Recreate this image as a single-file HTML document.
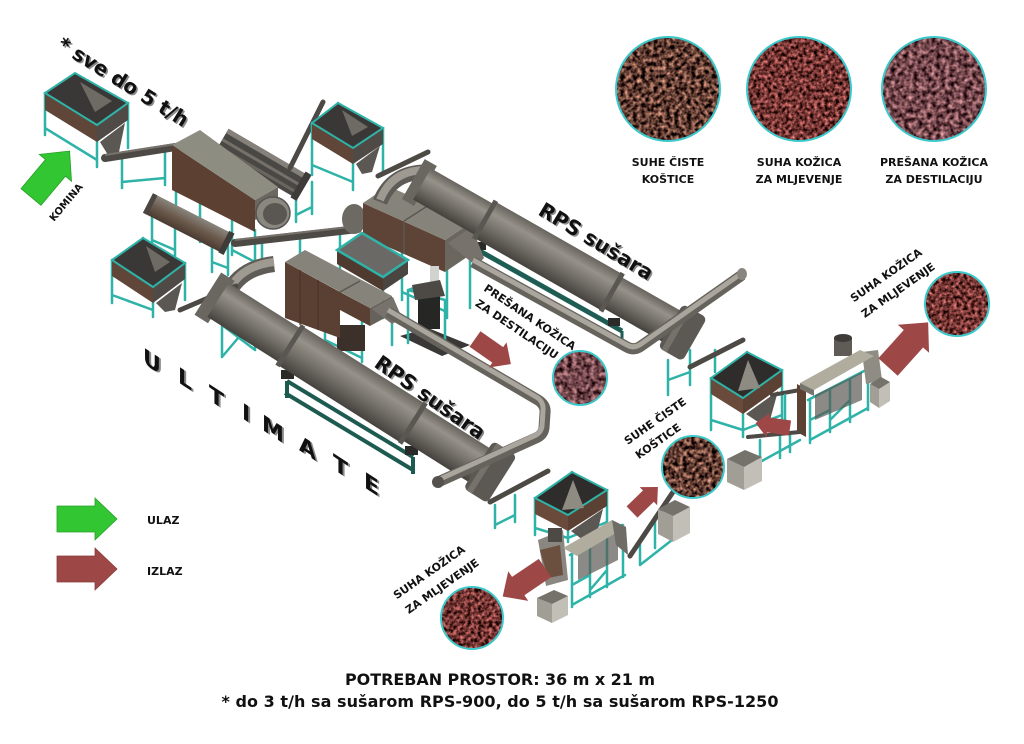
<!DOCTYPE html>
<html><head><meta charset="utf-8"><style>
html,body{margin:0;padding:0;background:#fff;}
svg{display:block;}
text{font-family:"DejaVu Sans","Liberation Sans",sans-serif;font-weight:bold;}
.t{stroke:#2fb3a8;stroke-width:2.5;fill:none;stroke-linecap:round}
.cv{stroke:#4d4944;stroke-linecap:round;fill:none}
</style></head><body>
<svg width="1024" height="744" viewBox="0 0 1024 744" xmlns="http://www.w3.org/2000/svg">
<defs>
<linearGradient id="dg" x1="0" y1="0" x2="0" y2="1">
<stop offset="0" stop-color="#67635d"/><stop offset="0.28" stop-color="#96928a"/><stop offset="0.55" stop-color="#7a766f"/><stop offset="1" stop-color="#45423e"/>
</linearGradient>
<linearGradient id="dg2" x1="0" y1="0" x2="0" y2="1">
<stop offset="0" stop-color="#8a867e"/><stop offset="0.5" stop-color="#6b5a4c"/><stop offset="1" stop-color="#4a3a30"/>
</linearGradient>
<filter id="fA" x="0" y="0" width="1" height="1" color-interpolation-filters="sRGB">
<feTurbulence type="fractalNoise" baseFrequency="0.24" numOctaves="2" seed="4" result="n"/>
<feColorMatrix in="n" type="matrix" values="1.6 0 0 0 -0.42  1.2 0 0 0 -0.36  1.0 0 0 0 -0.3  0 0 0 0 1"/>
<feComposite in2="SourceGraphic" operator="in"/>
</filter>
<filter id="fB" x="0" y="0" width="1" height="1" color-interpolation-filters="sRGB">
<feTurbulence type="fractalNoise" baseFrequency="0.28" numOctaves="2" seed="9" result="n"/>
<feColorMatrix in="n" type="matrix" values="1.5 0 0 0 -0.3  0.9 0 0 0 -0.24  0.9 0 0 0 -0.25  0 0 0 0 1"/>
<feComposite in2="SourceGraphic" operator="in"/>
</filter>
<filter id="fC" x="0" y="0" width="1" height="1" color-interpolation-filters="sRGB">
<feTurbulence type="fractalNoise" baseFrequency="0.22" numOctaves="2" seed="17" result="n"/>
<feColorMatrix in="n" type="matrix" values="1.3 0 0 0 -0.2  1.0 0 0 0 -0.22  1.0 0 0 0 -0.2  0 0 0 0 1"/>
<feComposite in2="SourceGraphic" operator="in"/>
</filter>
<path id="arr" d="M0,-13 L38,-13 L38,-21 L60,0 L38,21 L38,13 L0,13 Z"/>
</defs>

<!-- ============ TOP-LEFT HOPPER H1 ============ -->
<path class="t" d="M75,80 V120 M45,93 V135 M97,125 V167 M128,103 V148 M45,128 L97,160"/>
<polygon points="45,93 97,125 97,142 45,110" fill="#5f4638"/>
<polygon points="97,125 128,103 128,120 97,142" fill="#4f4a45"/>
<polygon points="100,142 125,123 119,152 108,155" fill="#5b5853"/>
<polygon points="45,93 75,73 128,103 97,125" fill="#3a3836" stroke="#2fb3a8" stroke-width="2"/>
<polygon points="80,82 112,101 95,112" fill="#6e6b65"/>

<!-- conveyor C1 -->
<path class="t" d="M122,158 V188 M165,150 V185 M122,182 L165,178"/>
<path class="cv" d="M105,158 L182,146" stroke-width="8"/>
<path d="M105,155 L182,143" stroke="#77736c" stroke-width="2"/>

<!-- ============ TROMMEL ============ -->
<path class="t" d="M176,188 V228 M200,200 V242 M176,220 L200,234 M232,218 V255 M255,230 V262 M232,250 L255,262 M296,190 V222 M312,182 V214 M296,215 L312,207"/>
<g transform="translate(222,140) rotate(30.3)">
<rect x="0" y="-13" width="95" height="26" fill="#4a4845"/>
<rect x="0" y="-13" width="95" height="5" fill="#85817a"/>
<rect x="0" y="-2" width="95" height="3" fill="#75716a"/>
<rect x="0" y="6" width="95" height="3" fill="#6a665f"/>
<rect x="88" y="-15" width="7" height="30" fill="#3e3c39"/>
</g>
<polygon points="172,145 255,200 255,232 172,190" fill="#5c4133"/>
<polygon points="255,200 278,187 278,207 255,220" fill="#6b6861"/>
<polygon points="172,145 200,130 278,187 255,200" fill="#8e8d82"/>
<ellipse cx="273" cy="213" rx="17" ry="16" fill="#8a877f" stroke="#555" stroke-width="1.5"/>
<ellipse cx="275" cy="214" rx="12" ry="11" fill="#5a5752"/>

<!-- ============ HOPPER H2 ============ -->
<path class="cv" d="M290,168 L323,102" stroke-width="5" stroke="#5e5a55"/>
<path class="t" d="M338,103 V150 M312,123 V175 M353,148 V190 M383,128 V172 M312,165 L353,182"/>
<polygon points="312,123 353,148 353,164 312,139" fill="#5f4638"/>
<polygon points="353,148 383,128 383,144 353,164" fill="#4f4a45"/>
<polygon points="356,164 380,146 372,172 362,174" fill="#5b5853"/>
<polygon points="312,123 338,103 383,128 353,148" fill="#3a3836" stroke="#2fb3a8" stroke-width="2"/>
<polygon points="342,110 368,127 352,136" fill="#6e6b65"/>

<!-- second cylinder -->
<path class="t" d="M152,215 V248 M175,226 V256 M152,240 L175,250 M212,240 V272 M228,246 V275 M212,262 L228,268"/>
<g transform="translate(148,203) rotate(27)">
<rect x="0" y="-11" width="90" height="22" fill="url(#dg2)"/>
<rect x="0" y="-11" width="5" height="22" fill="#4a4642"/>
<rect x="85" y="-12" width="6" height="24" fill="#3e3b38"/>
</g>

<!-- ============ HOPPER H3 ============ -->
<path class="t" d="M143,238 V280 M112,260 V303 M153,287 V317 M185,263 V300 M112,295 L153,310"/>
<polygon points="112,260 153,287 153,303 112,276" fill="#5f4638"/>
<polygon points="153,287 185,263 185,279 153,303" fill="#4f4a45"/>
<polygon points="156,303 182,283 175,310 165,312" fill="#5b5853"/>
<polygon points="112,260 143,238 185,263 153,287" fill="#3a3836" stroke="#2fb3a8" stroke-width="2"/>
<polygon points="146,246 170,262 155,272" fill="#6e6b65"/>

<!-- belt C2 -->
<path class="t" d="M262,240 V262 M300,236 V258 M340,232 V255"/>
<path class="cv" d="M235,243 L358,229" stroke-width="8"/>
<path d="M235,240 L358,226" stroke="#75716a" stroke-width="2"/>

<!-- conveyor H2 -> upper furnace -->
<path class="t" d="M395,185 V215 M420,172 V205 M395,210 L420,198"/>
<path class="cv" d="M378,176 L428,152" stroke-width="5" stroke="#5a4a3e"/>

<!-- ============ UPPER DRYER FRAME ============ -->
<path d="M478,250 L622,331" stroke="#1d5d53" stroke-width="5"/>
<path d="M478,250 V262 M622,331 V342" stroke="#1d5d53" stroke-width="3"/>
<rect x="474" y="242" width="12" height="8" fill="#2a2a28"/>
<rect x="608" y="318" width="12" height="8" fill="#2a2a28"/>

<path class="t" d="M402,250 V300 M447,268 V318 M470,255 V308 M402,292 L447,312"/>

<!-- ============ UPPER FURNACE ============ -->
<ellipse cx="354" cy="219" rx="12" ry="15" fill="#6d6a64"/>
<polygon points="363,203 445,240 445,272 363,236" fill="#5e4436"/>
<polygon points="445,240 470,223 470,255 445,272" fill="#6b675f"/>
<polygon points="363,203 445,240 470,223 388,186" fill="#86847a"/>
<path d="M404,221 V254 M404,221 L429,205" stroke="#5a5852" stroke-width="1.5"/>
<polygon points="448,243 472,227 484,258 476,266" fill="#77736c"/>

<path d="M380,202 Q392,172 426,172" stroke="#5f5c57" stroke-width="15" fill="none"/>
<path d="M380,200 Q392,170 426,170" stroke="#9e9a92" stroke-width="8" fill="none"/>

<!-- ============ UPPER DRYER ============ -->
<g transform="translate(422,184) rotate(29.7)">
<rect x="-10" y="-23" width="14" height="46" fill="#6a6761"/>
<rect x="0" y="-18" width="292" height="36" fill="url(#dg)"/>
<rect x="72" y="-21" width="146" height="42" fill="url(#dg)"/>
<rect x="70" y="-22" width="5" height="44" fill="#5a5752"/>
<rect x="216" y="-22" width="5" height="44" fill="#5a5752"/>
<rect x="286" y="-25" width="28" height="50" rx="5" fill="#5c5954"/>
<rect x="290" y="-25" width="6" height="50" fill="#76726b"/>
</g>

<path d="M473,262 L627,347 Q634,351 641,346 L742,275" stroke="#66625c" stroke-width="11" fill="none" stroke-linejoin="round"/>
<path d="M473,260 L627,345 Q634,349 641,344 L742,273" stroke="#aaa69e" stroke-width="5" fill="none" stroke-linejoin="round"/>
<ellipse cx="742" cy="274" rx="5" ry="6" fill="#8a867f"/>

<!-- ============ MIDDLE HOPPER ============ -->
<path class="t" d="M340,262 V300 M383,280 V318"/>
<polygon points="337,250 383,277 383,291 337,264" fill="#4f3a30"/>
<polygon points="383,277 408,260 408,274 383,291" fill="#4a4541"/>
<polygon points="337,250 362,233 408,260 383,277" fill="#6b6966" stroke="#2fb3a8" stroke-width="2.5"/>

<!-- ============ BAG MACHINE ============ -->
<polygon points="400,336 428,328 470,345 442,356" fill="#3a3836"/>
<path class="t" d="M408,290 V343 M445,300 V350 M408,290 L425,284 M425,284 V335 M408,290 L445,300"/>
<rect x="418" y="293" width="22" height="36" fill="#262625"/>
<rect x="430" y="266" width="9" height="17" fill="#d2d2cf"/>
<polygon points="412,285 440,280 445,296 415,300" fill="#4d4a46"/>

<!-- ============ LOWER FURNACE ============ -->
<path class="t" d="M325,300 V348 M362,318 V362 M392,300 V345 M325,340 L362,358"/>
<rect x="337" y="325" width="28" height="26" fill="#3c302a"/>
<polygon points="285,262 340,292 340,338 285,318" fill="#5a4033"/>
<polygon points="340,292 370,308 370,326 340,310" fill="#5a4033"/>
<polygon points="370,308 392,296 392,314 370,326" fill="#66625b"/>
<polygon points="285,262 305,250 392,296 370,308" fill="#86847a"/>
<path d="M340,292 L360,281" stroke="#5a5852" stroke-width="1.5"/>
<path d="M300,270 V325 M318,280 V330" stroke="#4a3429" stroke-width="1.2"/>
<polygon points="372,309 393,297 402,318 392,324" fill="#77736c"/>

<path d="M228,294 Q240,268 274,264" stroke="#5f5c57" stroke-width="16" fill="none"/>
<path d="M228,292 Q240,266 274,262" stroke="#9e9a92" stroke-width="8" fill="none"/>

<path class="cv" d="M180,310 L236,286" stroke-width="5" stroke="#5a4a3e"/>
<path class="t" d="M222,325 V357 M255,318 V350 M222,325 L255,350 M222,357 L255,318"/>

<!-- ============ LOWER DRYER FRAME ============ -->
<path d="M287,381 L413,457 M285,393 L413,470" stroke="#1d5a50" stroke-width="4" fill="none"/>
<path d="M287,381 V398 M413,457 V474" stroke="#1d5a50" stroke-width="4"/>
<rect x="281" y="370" width="13" height="9" fill="#2a2a28"/>
<rect x="405" y="446" width="13" height="9" fill="#2a2a28"/>

<!-- ============ LOWER DRYER ============ -->
<g transform="translate(218,300) rotate(32.3)">
<rect x="-12" y="-25" width="16" height="50" fill="#6a6761"/>
<rect x="0" y="-20" width="310" height="40" fill="url(#dg)"/>
<rect x="85" y="-23" width="145" height="46" fill="url(#dg)"/>
<rect x="83" y="-24" width="5" height="48" fill="#5a5752"/>
<rect x="228" y="-24" width="5" height="48" fill="#5a5752"/>
<rect x="308" y="-28" width="28" height="56" rx="5" fill="#5c5954"/>
<rect x="312" y="-28" width="6" height="56" fill="#76726b"/>
</g>

<path d="M388,312 L538,400 Q546,405 545,413 L544,428 Q543,435 536,438 L438,482" stroke="#66625c" stroke-width="11" fill="none" stroke-linejoin="round"/>
<path d="M388,310 L538,398 Q544,403 543,411 L542,426 Q541,433 534,436 L438,480" stroke="#aaa69e" stroke-width="5" fill="none" stroke-linejoin="round"/>
<ellipse cx="438" cy="482" rx="6" ry="6" fill="#55524d"/>

<!-- ============ RIGHT SECTION ============ -->
<path class="t" d="M668,360 V395 M690,350 V385 M668,380 L690,372 M715,350 V372"/>
<path class="cv" d="M690,367 L743,340" stroke-width="5" stroke="#5a4030"/>

<path class="t" d="M747,352 V400 M711,378 V430 M743,398 V437 M782,370 V425 M711,420 L743,430 M743,430 L782,415"/>
<polygon points="711,378 743,398 743,414 711,394" fill="#6a4b3b"/>
<polygon points="743,398 782,370 782,386 743,414" fill="#5b4034"/>
<polygon points="746,414 778,391 770,420 758,422" fill="#5b5853"/>
<polygon points="711,378 747,352 782,370 743,398" fill="#2f2d2b" stroke="#2fb3a8" stroke-width="2"/>
<polygon points="748,360 760,388 738,391" fill="#8e8b83"/>

<path class="cv" d="M772,395 L800,390" stroke-width="4"/>
<path class="t" d="M785,395 V425"/>

<path class="t" d="M808,400 L866,370 M810,440 L868,408 M810,400 V443 M830,390 V432 M850,380 V422 M868,370 V410 M810,420 L830,410 M830,420 L850,400"/>
<polygon points="815,395 862,372 862,400 815,420" fill="#5a5854" opacity="0.7"/>
<polygon points="797,384 806,389 806,437 797,432" fill="#5d4233"/>
<polygon points="862,352 878,350 882,380 866,384" fill="#8f8c84"/>
<rect x="834" y="338" width="18" height="18" fill="#5f5c57"/>
<ellipse cx="843" cy="338" rx="9" ry="4" fill="#3e3c39"/>
<polygon points="800,383 860,350 874,356 814,390" fill="#b0ad9f"/>
<polygon points="800,383 814,390 814,396 800,389" fill="#77746c"/>

<polygon points="870,384 879,389 879,408 870,402" fill="#a19e96"/>
<polygon points="879,389 890,382 890,401 879,408" fill="#c2bfb7"/>
<polygon points="870,384 881,377 890,382 879,389" fill="#75726c"/>

<path class="t" d="M760,440 V462 M780,436 V458 M760,462 L800,440 M790,434 V452"/>
<path class="cv" d="M748,437 L800,432" stroke-width="4" stroke="#5e5a55"/>

<polygon points="727,459 744,467 744,490 727,482" fill="#a19e96"/>
<polygon points="744,467 762,457 762,481 744,490" fill="#c2bfb7"/>
<polygon points="727,459 745,450 762,457 744,467" fill="#75726c"/>

<!-- ============ LOWER RIGHT ============ -->
<path class="t" d="M495,505 V528 M515,495 V522 M495,525 L515,515"/>
<path class="cv" d="M490,502 L548,471" stroke-width="5" stroke="#5a4030"/>

<path class="t" d="M572,472 V510 M535,498 V535 M568,515 V542 M607,490 V528 M535,528 L568,538 M568,538 L607,522"/>
<polygon points="535,498 568,515 568,531 535,514" fill="#6a4b3b"/>
<polygon points="568,515 607,490 607,506 568,531" fill="#5b4034"/>
<polygon points="571,531 603,509 596,537 583,540" fill="#5b5853"/>
<polygon points="535,498 572,472 607,490 568,515" fill="#2f2d2b" stroke="#2fb3a8" stroke-width="2"/>
<polygon points="573,480 584,508 562,510" fill="#8e8b83"/>

<path class="t" d="M570,555 L622,525 M572,605 L625,575 M572,555 V607 M590,545 V597 M607,535 V587 M623,525 V577 M572,585 L590,575 M590,590 L607,570"/>
<polygon points="578,552 618,530 618,560 578,580" fill="#5a5854" opacity="0.7"/>
<polygon points="538,540 563,530 568,580 546,586" fill="#8a8680"/>
<polygon points="540,550 560,545 563,575 548,578" fill="#6b5040"/>
<rect x="548" y="528" width="14" height="14" fill="#4d4a46"/>
<polygon points="563,548 612,520 626,527 577,556" fill="#b0ad9f"/>
<polygon points="612,520 626,527 628,555 616,545" fill="#6f6c66"/>

<path class="t" d="M640,545 V565 M655,520 V548 M640,565 L672,540"/>
<path class="cv" d="M630,556 L673,492" stroke-width="5" stroke="#6a6661"/>

<polygon points="658,509 673,516 673,542 658,534" fill="#a19e96"/>
<polygon points="673,516 690,507 690,533 673,542" fill="#c2bfb7"/>
<polygon points="658,509 675,500 690,507 673,516" fill="#75726c"/>

<polygon points="537,598 552,604 552,623 537,616" fill="#a19e96"/>
<polygon points="552,604 568,596 568,615 552,623" fill="#c2bfb7"/>
<polygon points="537,598 554,590 568,596 552,604" fill="#75726c"/>

<!-- ============ CIRCLES ============ -->
<circle cx="668" cy="89" r="52" fill="#000" filter="url(#fA)"/>
<circle cx="668" cy="89" r="52" fill="none" stroke="#3cc9cc" stroke-width="2"/>
<circle cx="799" cy="89" r="52" fill="#000" filter="url(#fB)"/>
<circle cx="799" cy="89" r="52" fill="none" stroke="#3cc9cc" stroke-width="2"/>
<circle cx="934" cy="89" r="52" fill="#000" filter="url(#fC)"/>
<circle cx="934" cy="89" r="52" fill="none" stroke="#3cc9cc" stroke-width="2"/>

<circle cx="957" cy="304" r="32" fill="#000" filter="url(#fB)"/>
<circle cx="957" cy="304" r="32" fill="none" stroke="#3cc9cc" stroke-width="2"/>
<circle cx="580" cy="378" r="27" fill="#000" filter="url(#fC)"/>
<circle cx="580" cy="378" r="27" fill="none" stroke="#3cc9cc" stroke-width="2"/>
<circle cx="693" cy="467" r="31" fill="#000" filter="url(#fA)"/>
<circle cx="693" cy="467" r="31" fill="none" stroke="#3cc9cc" stroke-width="2"/>
<circle cx="472" cy="618" r="31" fill="#000" filter="url(#fB)"/>
<circle cx="472" cy="618" r="31" fill="none" stroke="#3cc9cc" stroke-width="2"/>

<!-- ============ ARROWS ============ -->
<use href="#arr" fill="#33c633" stroke="#26a026" stroke-width="0.8" transform="translate(31,197) rotate(-50)"/>
<use href="#arr" fill="#33c633" stroke="#26a026" stroke-width="0.8" transform="translate(57,519)"/>
<use href="#arr" fill="#9e4747" stroke="#8a3a3a" stroke-width="0.8" transform="translate(57,569)"/>
<use href="#arr" fill="#9e4747" transform="translate(888,367) rotate(-48)"/>
<use href="#arr" fill="#9e4747" transform="translate(475,339) rotate(35) scale(0.73)"/>
<use href="#arr" fill="#9e4747" transform="translate(632,512) rotate(-44) scale(0.6)"/>
<use href="#arr" fill="#9e4747" transform="translate(790,428) rotate(188) scale(0.58)"/>
<use href="#arr" fill="#9e4747" transform="translate(545,568) rotate(146) scale(0.85)"/>

<!-- ============ TEXT ============ -->
<g font-size="20">
<text transform="translate(57.5,49.5) rotate(32)" fill="#8a8a8a">* sve do 5 t/h</text>
<text transform="translate(56,48) rotate(32)" fill="#111">* sve do 5 t/h</text>
</g>
<text transform="translate(54,222) rotate(-50)" font-size="10" fill="#111">KOMINA</text>

<g font-size="20.5">
<text transform="translate(538.5,215.5) rotate(31)" fill="#8a8a8a">RPS sušara</text>
<text transform="translate(537,214) rotate(31)" fill="#111">RPS sušara</text>
<text transform="translate(374.5,367.5) rotate(35)" fill="#8a8a8a">RPS sušara</text>
<text transform="translate(373,366) rotate(35)" fill="#111">RPS sušara</text>
</g>

<g font-size="22" fill="#888">
<text transform="translate(145,364.5) skewY(33)">U</text>
<text transform="translate(180,383.5) skewY(33)">L</text>
<text transform="translate(211,401.5) skewY(33)">T</text>
<text transform="translate(244,419.5) skewY(33)">I</text>
<text transform="translate(264,431) skewY(33)">M</text>
<text transform="translate(301,451.5) skewY(33)">A</text>
<text transform="translate(335,470.5) skewY(33)">T</text>
<text transform="translate(366,488.5) skewY(33)">E</text>
</g>
<g font-size="22" fill="#111">
<text transform="translate(143,363) skewY(33)">U</text>
<text transform="translate(178,382) skewY(33)">L</text>
<text transform="translate(209,400) skewY(33)">T</text>
<text transform="translate(242,418) skewY(33)">I</text>
<text transform="translate(262,429.5) skewY(33)">M</text>
<text transform="translate(299,450) skewY(33)">A</text>
<text transform="translate(333,469) skewY(33)">T</text>
<text transform="translate(364,487) skewY(33)">E</text>
</g>

<g font-size="11" fill="#111" text-anchor="middle">
<text x="668" y="166">SUHE ČISTE</text>
<text x="668" y="183">KOŠTICE</text>
<text x="799" y="166">SUHA KOŽICA</text>
<text x="799" y="183">ZA MLJEVENJE</text>
<text x="934" y="166">PREŠANA KOŽICA</text>
<text x="934" y="183">ZA DESTILACIJU</text>
</g>

<g font-size="11" fill="#111" text-anchor="middle">
<text transform="translate(886,275) rotate(-35)" dy="4">SUHA KOŽICA</text>
<text transform="translate(898,290) rotate(-35)" dy="4">ZA MLJEVENJE</text>
<text transform="translate(655,421) rotate(-35)" dy="4">SUHE ČISTE</text>
<text transform="translate(658,441) rotate(-35)" dy="4">KOŠTICE</text>
<text transform="translate(429,572) rotate(-35)" dy="4">SUHA KOŽICA</text>
<text transform="translate(442,586) rotate(-35)" dy="4">ZA MLJEVENJE</text>
<text transform="translate(530,317) rotate(34)" dy="4">PREŠANA KOŽICA</text>
<text transform="translate(517,329) rotate(34)" dy="4">ZA DESTILACIJU</text>
</g>

<text x="147" y="524" font-size="11" fill="#111">ULAZ</text>
<text x="147" y="575" font-size="11" fill="#111">IZLAZ</text>

<text x="500" y="685" font-size="16" fill="#111" text-anchor="middle" textLength="310">POTREBAN PROSTOR: 36 m x 21 m</text>
<text x="500" y="707" font-size="16" fill="#111" text-anchor="middle" textLength="557">* do 3 t/h sa sušarom RPS-900, do 5 t/h sa sušarom RPS-1250</text>
</svg>
</body></html>
